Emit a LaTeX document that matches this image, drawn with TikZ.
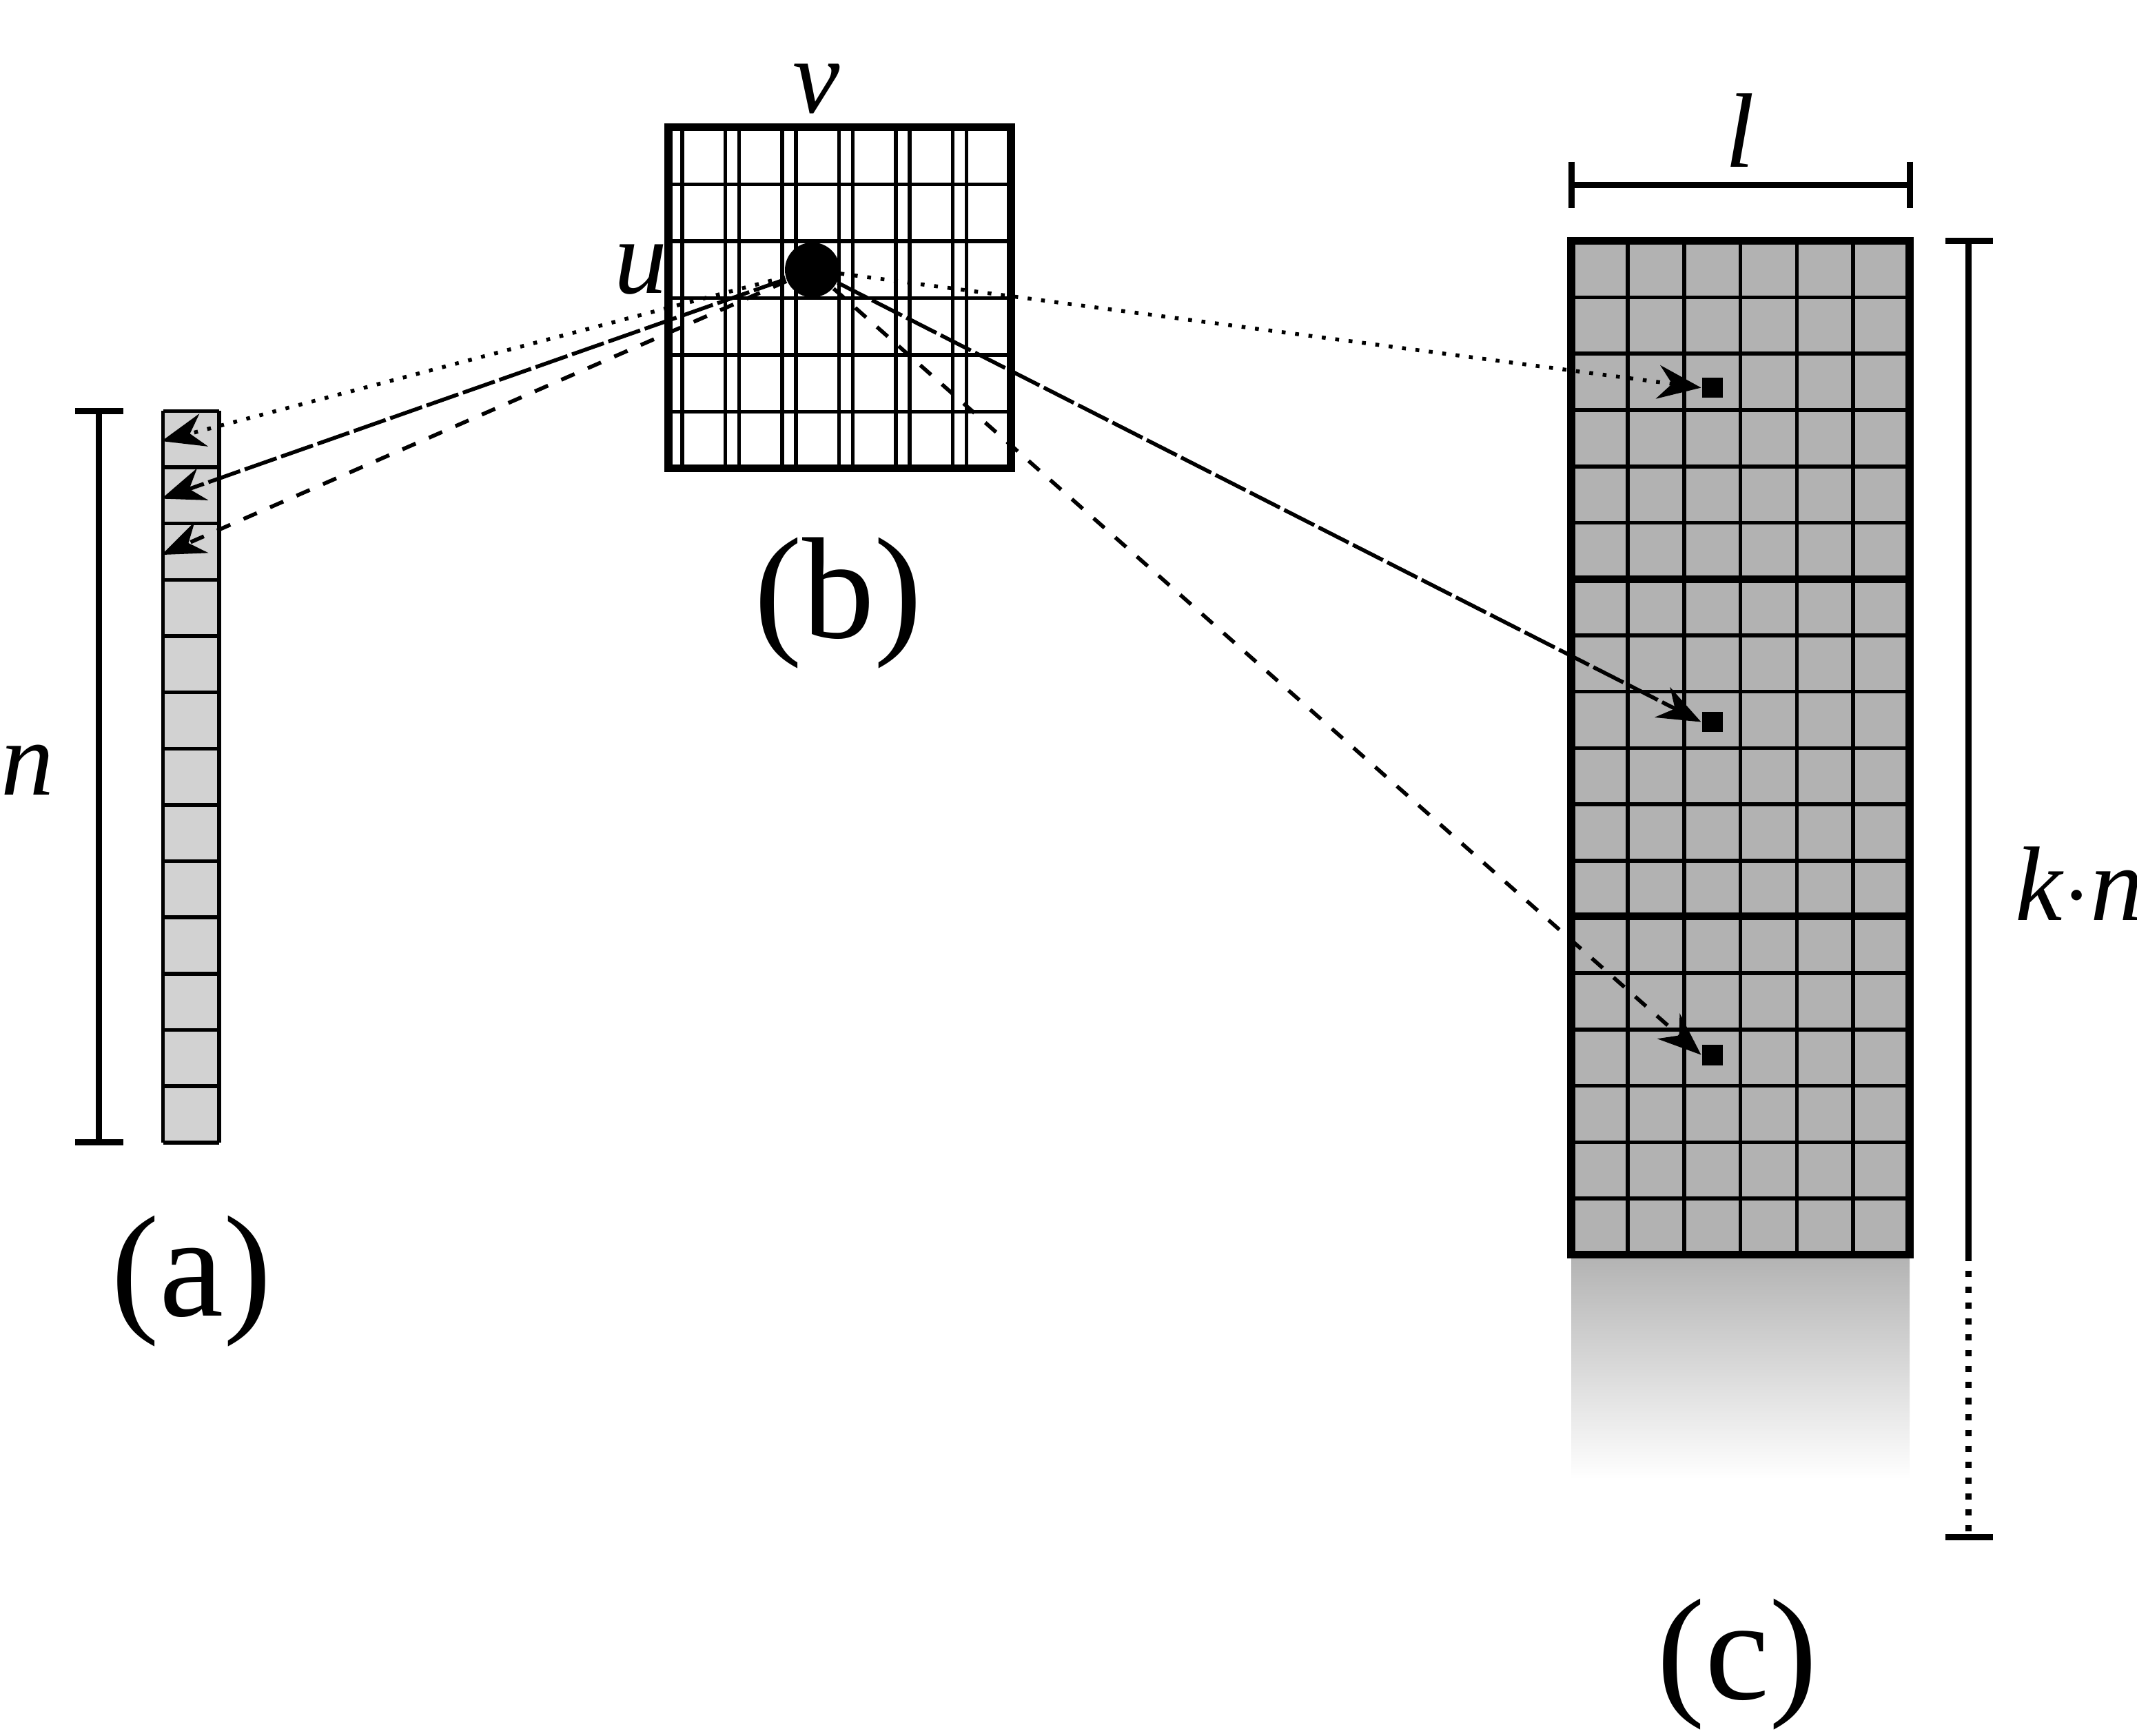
\documentclass[tikz,border=0pt]{standalone}
\usepackage{fontspec}
\setmainfont{Liberation Serif}
\usetikzlibrary{arrows.meta}
\tikzset{
  cell/.style={draw,line width=0.8pt},
  frame/.style={draw,line width=1.6pt},
  dim/.style={line width=1.3pt},
  lab/.style={font=\fontsize{30}{34}\selectfont},
  var/.style={font=\fontsize{22}{26}\selectfont\itshape},
  link/.style={line width=0.8pt,-{Stealth[length=9pt,width=7pt]}}
}
\begin{document}
\begin{tikzpicture}[x=0.01cm,y=-0.01cm]
  \useasboundingbox (0,0) rectangle (1560,1267);

  % (a) column
  \fill[gray!35] (119,300) rectangle (160,834);
  \foreach \i in {0,...,13} \draw[line width=0.8pt] (119,300+41.08*\i) -- (160,300+41.08*\i);
  \draw[line width=0.8pt] (119,300) -- (119,834) (160,300) -- (160,834);
  \foreach \i/\y in {1/322,2/364,3/405} \coordinate (a\i) at (118,\y);
  \draw[dim] (72,300) -- (72,834) (55,300) -- (90,300) (55,834) -- (90,834);
  \node[var] (n) at (20,562) {n};
  \node[lab] (la) at (140,935) {(a)};

  % (b) grid
  \fill[white] (488,93) rectangle (738,342);
  \draw[line width=0.8pt,step=41.5] (488,93) grid (738,342);
  \foreach \i in {1,...,5} {
    \draw[line width=0.8pt] (488+41.5*\i,93) -- (488+41.5*\i,342);
    \draw[line width=0.8pt] (488,93+41.5*\i) -- (738,93+41.5*\i);
  }
  \draw[frame] (488,93) rectangle (738,342);
  \node[var] (v) at (596,65) {v};
  \node[var] (u) at (468,197) {u};
  \node[circle,fill=black,minimum size=0.4cm,inner sep=0pt] (dot) at (593,197) {};
  \node[lab] (lb) at (612,440) {(b)};

  % (c) stacked blocks
  \shade[top color=gray!60,bottom color=white] (1147,916) rectangle (1394,1080);
  \fill[gray!60] (1147,176) rectangle (1394,916);
  \foreach \i in {1,...,17} \draw[line width=0.8pt] (1147,176+41.11*\i) -- (1394,176+41.11*\i);
  \foreach \i in {1,...,5} \draw[line width=0.8pt] (1147+41.17*\i,176) -- (1147+41.17*\i,916);
  \draw[frame] (1147,176) rectangle (1394,916);
  \draw[frame] (1147,423) -- (1394,423) (1147,669) -- (1394,669);
  \foreach \i/\y in {1/283,2/527,3/770} {
    \node[fill=black,minimum size=0.15cm,inner sep=0pt] (c\i) at (1250,\y) {};
  }
  \draw[dim] (1147,135) -- (1394,135) (1147,118) -- (1147,152) (1394,118) -- (1394,152);
  \node[var] (l) at (1270,95) {l};
  \draw[dim] (1437,176) -- (1437,916) (1420,176) -- (1455,176) (1420,1122) -- (1455,1122);
  \draw[dim,dotted] (1437,916) -- (1437,1122);
  \node[var] (kn) at (1518,645) {k$\cdot$n};
  \node[lab] (lc) at (1268,1215) {(c)};

  % links
  \draw[link,dotted] (dot) -- (a1);
  \draw[link,dash pattern=on 7pt off 1pt] (dot) -- (a2);
  \draw[link,dashed] (dot) -- (a3);
  \draw[link,dotted] (dot) -- (c1.west);
  \draw[link,dash pattern=on 7pt off 1pt] (dot) -- (c2.west);
  \draw[link,dashed] (dot) -- (c3.west);
\end{tikzpicture}
\end{document}
